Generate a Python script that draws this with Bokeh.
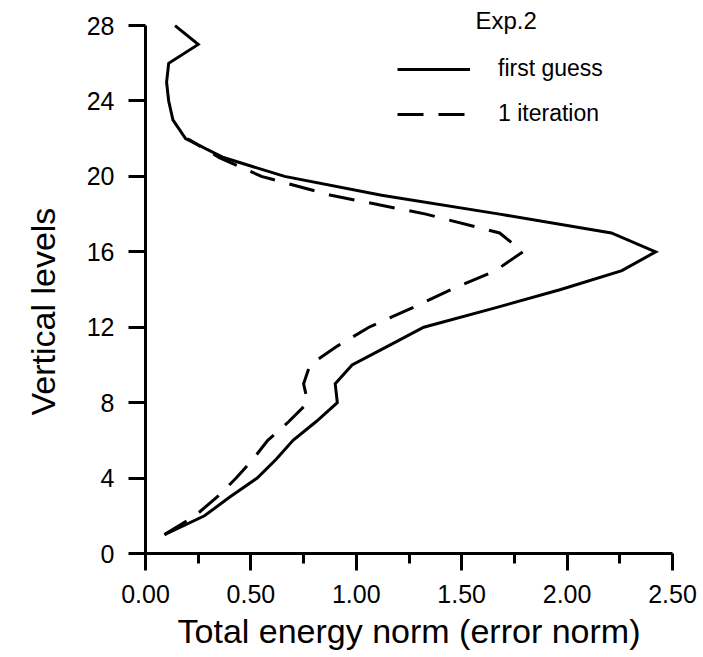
from bokeh.plotting import figure
from bokeh.models import FixedTicker, Legend, LegendItem, Label, Range1d, Title
from bokeh.embed import file_html
from bokeh.resources import INLINE

# ---- data ----
levels_first = list(range(1, 29))
first_guess = [0.09, 0.28, 0.40, 0.53, 0.62, 0.70, 0.81, 0.91, 0.90, 0.98,
               1.15, 1.32, 1.65, 1.97, 2.26, 2.42, 2.21, 1.68, 1.12, 0.66,
               0.37, 0.19, 0.13, 0.11, 0.10, 0.11, 0.25, 0.14]
levels_iter = list(range(1, 23))
one_iteration = [0.09, 0.235, 0.34, 0.43, 0.51, 0.58, 0.68, 0.77, 0.75, 0.78,
                 0.91, 1.06, 1.26, 1.45, 1.66, 1.79, 1.68, 1.33, 0.88, 0.55,
                 0.35, 0.20]
x_ticks = [0.0, 0.5, 1.0, 1.5, 2.0, 2.5]
x_tick_labels = ["0.00", "0.50", "1.00", "1.50", "2.00", "2.50"]
x_minor_ticks = [0.25, 0.75, 1.25, 1.75, 2.25]
y_ticks = [0, 4, 8, 12, 16, 20, 24, 28]
series_names = ["first guess", "1 iteration"]
panel_title = "Exp.2"
x_title = "Total energy norm (error norm)"
y_title = "Vertical levels"

FONT = "Liberation Sans"

# frame reaches the top of the canvas; the y axis line is bounded to 0..28
p = figure(width=703, height=657, output_backend="svg", toolbar_location=None,
           x_range=Range1d(0, 2.5), y_range=Range1d(0, 29.33),
           min_border_left=145, min_border_right=31,
           min_border_top=0, min_border_bottom=104)
p.outline_line_color = None
p.xgrid.visible = False
p.ygrid.visible = False
p.background_fill_color = "white"
p.border_fill_color = "white"

p.xaxis.ticker = FixedTicker(ticks=x_ticks, minor_ticks=x_minor_ticks)
p.xaxis.major_label_overrides = {t: l for t, l in zip(x_ticks, x_tick_labels)}
p.yaxis.ticker = FixedTicker(ticks=y_ticks, minor_ticks=[])
p.yaxis.bounds = (y_ticks[0], y_ticks[-1])

for ax in (p.xaxis, p.yaxis):
    ax.axis_line_width = 3
    ax.axis_line_color = "black"
    ax.major_tick_line_width = 3
    ax.major_tick_line_color = "black"
    ax.major_tick_in = 0
    ax.major_tick_out = 17
    ax.major_label_text_font = FONT
    ax.major_label_text_font_size = "25px"
    ax.major_label_text_color = "black"
    ax.axis_label_text_font = FONT
    ax.axis_label_text_font_size = "34px"
    ax.axis_label_text_font_style = "normal"
    ax.axis_label_text_color = "black"

p.xaxis.minor_tick_in = 0
p.xaxis.minor_tick_out = 10
p.xaxis.minor_tick_line_width = 3
p.xaxis.minor_tick_line_color = "black"
p.yaxis.minor_tick_line_color = None
p.xaxis.major_label_standoff = 14
p.yaxis.major_label_standoff = 14
p.xaxis.axis_label_standoff = 6
p.xaxis.axis_label = x_title

# vertical title on the left, placed where the reference has it
p.add_layout(Title(text=y_title, align="left", offset=138,
                   vertical_align="top",
                   text_font=FONT, text_font_size="34px",
                   text_font_style="normal", text_color="black",
                   standoff=40), "left")

r1 = p.line(first_guess, levels_first, line_color="black", line_width=3,
            line_join="miter")
r2 = p.line(one_iteration, levels_iter, line_color="black", line_width=3,
            line_dash="26 15", line_join="miter")

legend = Legend(items=[LegendItem(label=series_names[0], renderers=[r1]),
                       LegendItem(label=series_names[1], renderers=[r2])],
                location=(252, 426), glyph_width=73, glyph_height=26,
                label_height=26, label_standoff=28, spacing=18,
                padding=0, margin=0, border_line_color=None,
                background_fill_alpha=0,
                label_text_font=FONT, label_text_font_size="23px",
                label_text_color="black")
p.add_layout(legend)

p.add_layout(Label(x=330, y=533, x_units="screen", y_units="screen",
                   text=panel_title, text_font=FONT, text_font_size="24px",
                   text_baseline="middle", text_align="left",
                   text_color="black"))

open("out.html", "w").write(file_html(p, INLINE))
